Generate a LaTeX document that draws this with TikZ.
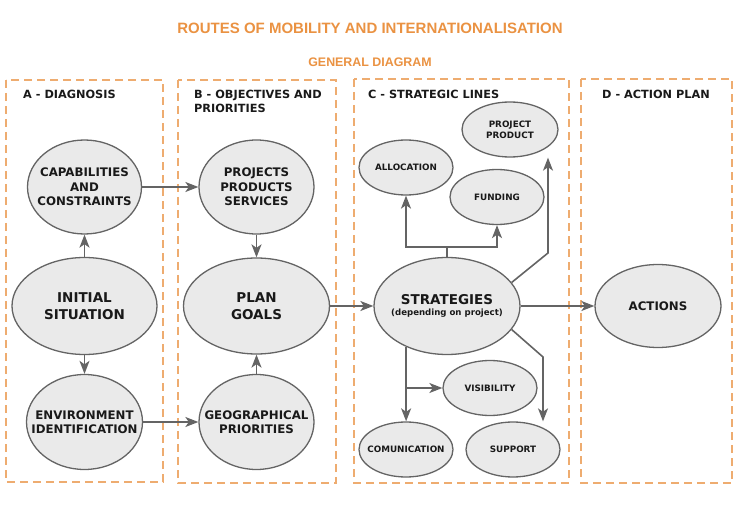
\documentclass[tikz,border=0pt]{standalone}
\usepackage{fontspec}
\setmainfont{DejaVu Sans}
\newfontfamily\headfont{Liberation Sans}
\usepackage{xcolor}
\usetikzlibrary{arrows.meta}
\usetikzlibrary{positioning, shapes.geometric}

\definecolor{routeorange}{RGB}{234,146,66}
\definecolor{zoneorange}{RGB}{238,172,112}
\definecolor{bubblefill}{RGB}{234,234,234}
\definecolor{linegray}{RGB}{100,100,100}

\tikzset{
  zone/.style={draw=zoneorange, line width=1.5pt, dash pattern=on 8pt off 5pt},
  zonetitle/.style={anchor=north west, align=left, inner sep=0pt, text=black!90,
    font=\fontsize{11.3}{14}\selectfont\bfseries},
  bubble/.style={ellipse, draw=linegray, line width=1.3pt, fill=bubblefill, inner sep=0pt},
  bigtxt/.style={align=center, text=black!90, font=\fontsize{13.5}{17}\selectfont\bfseries},
  midtxt/.style={align=center, text=black!90, font=\fontsize{11.8}{14.5}\selectfont\bfseries},
  smalltxt/.style={align=center, text=black!90, font=\fontsize{8.8}{11}\selectfont\bfseries},
  wire/.style={draw=linegray, line width=1.6pt},
  conn/.style={wire, -{Stealth[length=13pt,width=10pt,inset=3.5pt]}},
}

\begin{document}
\begin{tikzpicture}[x=1pt, y=-1pt]
    \useasboundingbox (0,0) rectangle (740,508);

    % titles
    \node[text=routeorange, font=\headfont\fontsize{15}{18}\selectfont\bfseries] (title) at (370,28) {ROUTES OF MOBILITY AND INTERNATIONALISATION};
    \node[text=routeorange, font=\headfont\fontsize{12.4}{15}\selectfont\bfseries] (subtitle) at (370,62) {GENERAL DIAGRAM};

    % dashed zones
    \draw[zone] (6,80) rectangle (163,482);
    \draw[zone] (178,80) rectangle (336,483);
    \draw[zone] (354,79) rectangle (569,483);
    \draw[zone] (581,79) rectangle (732,483);
    \node[zonetitle] (za) at (23,90) {A - DIAGNOSIS};
    \node[zonetitle] (zb) at (194,90) {B - OBJECTIVES AND\\PRIORITIES};
    \node[zonetitle] (zc) at (368,90) {C - STRATEGIC LINES};
    \node[zonetitle] (zd) at (602,90) {D - ACTION PLAN};

    % A - diagnosis
    \node[bubble, minimum width=114pt, minimum height=94pt, label={[midtxt]center:CAPABILITIES\\AND\\CONSTRAINTS}] (cap) at (84.5,187) {};
    \node[bubble, minimum width=145pt, minimum height=97pt, label={[bigtxt]center:INITIAL\\SITUATION}] (init) at (84.5,306) {};
    \node[bubble, minimum width=116pt, minimum height=95pt, label={[midtxt]center:ENVIRONMENT\\IDENTIFICATION}] (env) at (84.5,422) {};

    % B - objectives and priorities
    \node[bubble, minimum width=115pt, minimum height=94pt, label={[midtxt]center:PROJECTS\\PRODUCTS\\SERVICES}] (proj) at (256.5,187) {};
    \node[bubble, minimum width=146pt, minimum height=96pt, label={[bigtxt]center:PLAN\\GOALS}] (plan) at (256.5,306) {};
    \node[bubble, minimum width=115pt, minimum height=95pt, label={[midtxt]center:GEOGRAPHICAL\\PRIORITIES}] (geo) at (256.5,422) {};

    % C - strategic lines
    \node[bubble, minimum width=146pt, minimum height=97pt, label={[bigtxt, font=\fontsize{8.6}{11}\selectfont\bfseries]center:{\fontsize{13.5}{11}\selectfont STRATEGIES}\\(depending on project)}] (strat) at (447,306) {};
    \node[bubble, minimum width=94pt, minimum height=55pt, label={[smalltxt]center:ALLOCATION}] (alloc) at (406,167.5) {};
    \node[bubble, minimum width=94pt, minimum height=55pt, label={[smalltxt]center:FUNDING}] (fund) at (497,197) {};
    \node[bubble, minimum width=96pt, minimum height=55pt, label={[smalltxt]center:PROJECT\\PRODUCT}] (pp) at (510,129.5) {};
    \node[bubble, minimum width=94pt, minimum height=55pt, label={[smalltxt]center:VISIBILITY}] (vis) at (490,388) {};
    \node[bubble, minimum width=94pt, minimum height=55pt, label={[smalltxt]center:COMUNICATION}] (comm) at (406,449.5) {};
    \node[bubble, minimum width=94pt, minimum height=55pt, label={[smalltxt]center:SUPPORT}] (supp) at (513,449.5) {};

    % D - action plan
    \node[bubble, minimum width=126pt, minimum height=83pt, label={[midtxt]center:ACTIONS}] (act) at (658,306) {};

    % connectors
    \draw[conn] (init) -- (cap);
    \draw[conn] (init) -- (env);
    \draw[conn] (cap) -- (proj);
    \draw[conn] (env) -- (geo);
    \draw[conn] (proj) -- (plan);
    \draw[conn] (geo) -- (plan);
    \draw[conn] (plan) -- (strat);
    \draw[conn] (strat) -- (act);

    \coordinate (fork) at (447,247);
    \coordinate (ppbend) at (548,253);
    \coordinate (suppbend) at (543,357);
    \draw[wire] (strat.north) -- (fork);
    \draw[conn] (fork) -| (alloc);
    \draw[conn] (fork) -| (fund);
    \draw[conn] (strat.20) -- (ppbend) -- (ppbend |- pp.south);
    \draw[conn] (strat.-20) -- (suppbend) -- (suppbend |- supp.north);
    \draw[conn] (strat.225) -- (strat.225 |- comm.north);
    \draw[conn] (strat.225 |- vis.west) -- (vis.west);
\end{tikzpicture}
\end{document}
